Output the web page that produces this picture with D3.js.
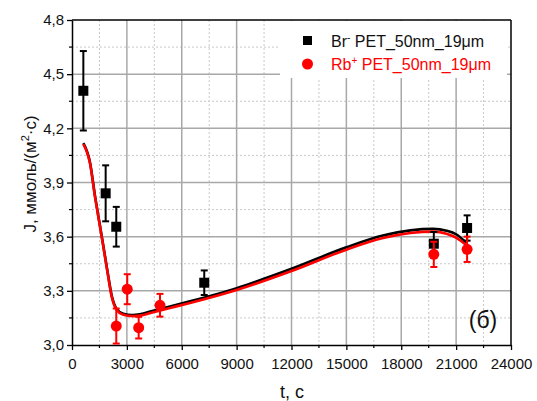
<!DOCTYPE html>
<html>
<head>
<meta charset="utf-8">
<script src="https://cdn.jsdelivr.net/npm/d3@7"></script>
<style>
  body { margin: 0; background: #fff; }
  svg { font-family: "Liberation Sans", Arial, sans-serif; }
</style>
</head>
<body>
<div id="view"></div>
<script>
// measured points (black squares = Br-, red circles = Rb+)
var brT   = [620, 1840, 2420, 7230, 19780, 21600];
var brJ   = [4.408, 3.84, 3.655, 3.345, 3.561, 3.648];
var brErr = [0.22, 0.155, 0.11, 0.068, 0.065, 0.07];

var rbT   = [2420, 3020, 3645, 4810, 19780, 21600];
var rbJ   = [3.105, 3.309, 3.096, 3.22, 3.502, 3.53];
var rbErr = [0.097, 0.083, 0.06, 0.063, 0.07, 0.07];

// fitted curves
var fitT     = [620, 984, 1257, 1530, 1712, 1950, 2170, 2440, 2805, 3300, 3700, 4445, 5355, 6448, 9000, 12000, 15000, 17000, 18500, 19745, 20475, 21020, 21566];
var fitRb    = [4.113, 4.006, 3.821, 3.655, 3.545, 3.397, 3.268, 3.194, 3.167, 3.160, 3.163, 3.182, 3.205, 3.233, 3.305, 3.410, 3.528, 3.592, 3.620, 3.628, 3.616, 3.593, 3.552];
var fitBr    = [4.118, 4.011, 3.826, 3.660, 3.550, 3.402, 3.274, 3.200, 3.173, 3.166, 3.170, 3.190, 3.213, 3.242, 3.315, 3.422, 3.541, 3.606, 3.635, 3.643, 3.633, 3.612, 3.565];

var xTicks = [0, 3000, 6000, 9000, 12000, 15000, 18000, 21000, 24000];
var yTicks = [3.0, 3.3, 3.6, 3.9, 4.2, 4.5, 4.8];

var W = 537, H = 401;
var m = {left: 72, top: 20, right: 26, bottom: 56};
var w = W - m.left - m.right, h = H - m.top - m.bottom;

var svg = d3.select("#view").append("svg")
	.attr("width", W)
	.attr("height", H);

var x = d3.scaleLinear().domain([0, 24000]).range([m.left, m.left + w]);
var y = d3.scaleLinear().domain([3.0, 4.8]).range([m.top + h, m.top]);

var xMinor = d3.range(1500, 24000, 3000);
var yMinor = d3.range(3.15, 4.8, 0.3);

// minor grid (dotted)
svg.append("g").selectAll("line").data(xMinor).enter().append("line")
	.attr("x1", d => x(d)).attr("x2", d => x(d))
	.attr("y1", m.top).attr("y2", m.top + h)
	.style("stroke", "#c8c8c8").style("stroke-dasharray", "2,2");
svg.append("g").selectAll("line").data(yMinor).enter().append("line")
	.attr("y1", d => y(d)).attr("y2", d => y(d))
	.attr("x1", m.left).attr("x2", m.left + w)
	.style("stroke", "#c8c8c8").style("stroke-dasharray", "2,2");

// major grid
svg.append("g").selectAll("line").data(xTicks.slice(1, -1)).enter().append("line")
	.attr("x1", d => x(d)).attr("x2", d => x(d))
	.attr("y1", m.top).attr("y2", m.top + h)
	.style("stroke", "#a8a8a8").style("stroke-width", 1.5);
svg.append("g").selectAll("line").data(yTicks.slice(1, -1)).enter().append("line")
	.attr("y1", d => y(d)).attr("y2", d => y(d))
	.attr("x1", m.left).attr("x2", m.left + w)
	.style("stroke", "#a8a8a8").style("stroke-width", 1.5);

// legend box hides the grid under it
svg.append("rect")
	.attr("x", 280).attr("y", m.top + 1)
	.attr("width", 227).attr("height", 57)
	.style("fill", "white");

// axes
var fmtY = d => d3.format(".1f")(d).replace(".", ",");
var xAxis = svg.append("g")
	.attr("transform", "translate(0," + (m.top + h) + ")")
	.call(d3.axisBottom(x).tickValues(xTicks).tickFormat(d3.format("d")).tickSize(5).tickSizeOuter(0));
var yAxis = svg.append("g")
	.attr("transform", "translate(" + m.left + ",0)")
	.call(d3.axisLeft(y).tickValues(yTicks).tickFormat(fmtY).tickSize(5).tickSizeOuter(0));
[xAxis, yAxis].forEach(function(a){
	a.select(".domain").style("stroke", "#000").style("stroke-width", 1.5);
	a.selectAll(".tick line").style("stroke", "#000").style("stroke-width", 1.3);
	a.selectAll("text").style("font-size", "15px").style("fill", "#111").style("font-family", "Liberation Sans, Arial, sans-serif");
});
xAxis.selectAll("text").attr("dy", "1.05em");
yAxis.selectAll("text").attr("x", -8);

// minor ticks
svg.append("g").selectAll("line").data(xMinor).enter().append("line")
	.attr("x1", d => x(d)).attr("x2", d => x(d))
	.attr("y1", m.top + h).attr("y2", m.top + h + 3)
	.style("stroke", "#000").style("stroke-width", 1.2);
svg.append("g").selectAll("line").data(yMinor).enter().append("line")
	.attr("y1", d => y(d)).attr("y2", d => y(d))
	.attr("x1", m.left - 3).attr("x2", m.left)
	.style("stroke", "#000").style("stroke-width", 1.2);

// top and right frame
svg.append("line").attr("x1", m.left).attr("x2", m.left + w).attr("y1", m.top).attr("y2", m.top)
	.style("stroke", "#000").style("stroke-width", 1.5);
svg.append("line").attr("x1", m.left + w).attr("x2", m.left + w).attr("y1", m.top).attr("y2", m.top + h)
	.style("stroke", "#000").style("stroke-width", 1.5);

// fitted curves
var line = d3.line().curve(d3.curveMonotoneX);
svg.append("path")
	.attr("d", line(fitT.map((t, i) => [x(t), y(fitBr[i])])))
	.style("fill", "none").style("stroke", "#000").style("stroke-width", 2.6);
svg.append("path")
	.attr("d", line(fitT.map((t, i) => [x(t), y(fitRb[i])])))
	.style("fill", "none").style("stroke", "#ff0000").style("stroke-width", 2.6);

// error bars and markers
function errBars(ts, js, es, col){
	var g = svg.append("g");
	ts.forEach(function(t, i){
		var cx = x(t), top = y(js[i] + es[i]), bot = y(js[i] - es[i]);
		g.append("line").attr("x1", cx).attr("x2", cx).attr("y1", top).attr("y2", bot)
			.style("stroke", col).style("stroke-width", 2);
		[top, bot].forEach(function(yy){
			g.append("line").attr("x1", cx - 3.5).attr("x2", cx + 3.5).attr("y1", yy).attr("y2", yy)
				.style("stroke", col).style("stroke-width", 2);
		});
	});
}
errBars(brT, brJ, brErr, "#000");
svg.append("g").selectAll("rect").data(brT).enter().append("rect")
	.attr("x", d => x(d) - 5).attr("y", (d, i) => y(brJ[i]) - 5)
	.attr("width", 10).attr("height", 10)
	.style("fill", "#000");
errBars(rbT, rbJ, rbErr, "#ff0000");
svg.append("g").selectAll("circle").data(rbT).enter().append("circle")
	.attr("cx", d => x(d)).attr("cy", (d, i) => y(rbJ[i]))
	.attr("r", 5.5)
	.style("fill", "#ff0000");

// legend
svg.append("rect").attr("x", 303).attr("y", 36).attr("width", 9).attr("height", 9).style("fill", "#000");
svg.append("circle").attr("cx", 307.5).attr("cy", 64).attr("r", 5.5).style("fill", "#ff0000");
var l1 = svg.append("text").attr("x", 331).attr("y", 47).style("font-size", "16px").style("fill", "#111");
l1.append("tspan").text("Br");
l1.append("tspan").attr("dy", -6).style("font-size", "10px").text("-");
l1.append("tspan").attr("dy", 6).text(" PET_50nm_19μm");
var l2 = svg.append("text").attr("x", 331).attr("y", 70).style("font-size", "16px").style("fill", "#ff0000");
l2.append("tspan").text("Rb");
l2.append("tspan").attr("dy", -6).style("font-size", "10px").text("+");
l2.append("tspan").attr("dy", 6).text(" PET_50nm_19μm");

// panel mark
svg.append("text").attr("x", 483).attr("y", 328).attr("text-anchor", "middle")
	.style("font-size", "23px").style("fill", "#111").text("(б)");

// axis titles
svg.append("text").attr("x", 292).attr("y", 398).attr("text-anchor", "middle")
	.style("font-size", "18px").style("fill", "#111").text("t, c");
var yl = svg.append("text")
	.attr("transform", "translate(36,174) rotate(-90)")
	.attr("text-anchor", "middle")
	.style("font-size", "17px").style("fill", "#111");
yl.append("tspan").text("J, ммоль/(м");
yl.append("tspan").attr("dy", -7).style("font-size", "11px").text("2");
yl.append("tspan").attr("dy", 7).text("·с)");
</script>
</body>
</html>
